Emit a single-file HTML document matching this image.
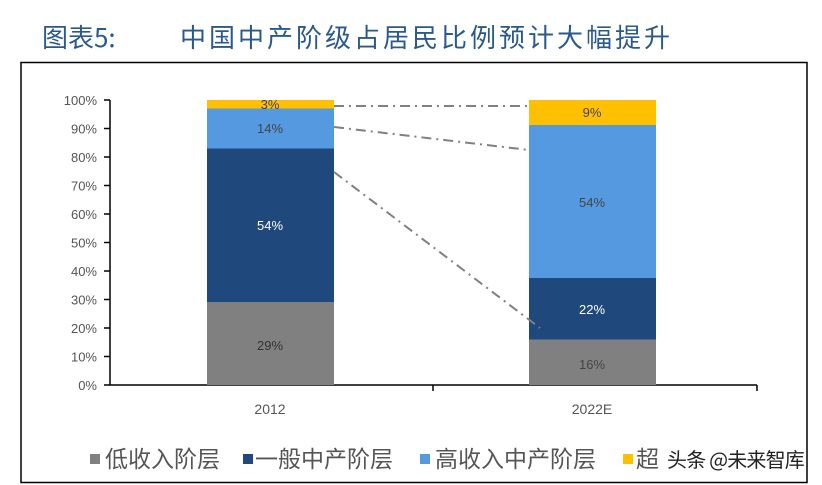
<!DOCTYPE html>
<html><head><meta charset="utf-8"><style>
body{margin:0;background:#fff;width:822px;height:485px;overflow:hidden;font-family:"Liberation Sans","Noto Sans CJK SC",sans-serif}
</style></head><body>
<svg width="822" height="485" xmlns="http://www.w3.org/2000/svg" style="position:absolute;left:0;top:0">
<text x="42" y="47" font-size="26" fill="#2a5a8c" font-family="'Noto Sans CJK SC',sans-serif">图表5:</text>
<text x="180" y="47" font-size="26" fill="#2a5a8c" font-family="'Noto Sans CJK SC',sans-serif" letter-spacing="3">中国中产阶级占居民比例预计大幅提升</text>
<rect x="21" y="62.5" width="786" height="420" fill="none" stroke="#000" stroke-width="1.5"/>
<g font-size="13" fill="#555" text-anchor="end" font-family="'Liberation Sans',sans-serif">
<text x="97" y="390">0%</text><text x="97" y="361.5">10%</text><text x="97" y="333">20%</text><text x="97" y="304.5">30%</text><text x="97" y="276">40%</text><text x="97" y="247.5">50%</text><text x="97" y="219">60%</text><text x="97" y="190.5">70%</text><text x="97" y="162">80%</text><text x="97" y="133.5">90%</text><text x="97" y="105">100%</text>
</g>
<g stroke="#000" stroke-width="1.5">
<line x1="110" y1="100" x2="110" y2="385"/>
<line x1="104" y1="100" x2="110" y2="100"/><line x1="104" y1="128.5" x2="110" y2="128.5"/><line x1="104" y1="157" x2="110" y2="157"/><line x1="104" y1="185.5" x2="110" y2="185.5"/><line x1="104" y1="214" x2="110" y2="214"/><line x1="104" y1="242.5" x2="110" y2="242.5"/><line x1="104" y1="271" x2="110" y2="271"/><line x1="104" y1="299.5" x2="110" y2="299.5"/><line x1="104" y1="328" x2="110" y2="328"/><line x1="104" y1="356.5" x2="110" y2="356.5"/><line x1="104" y1="385" x2="110" y2="385"/>
<line x1="110" y1="385" x2="757" y2="385"/>
<line x1="433" y1="385" x2="433" y2="391"/><line x1="757" y1="385" x2="757" y2="391"/>
</g>
<rect x="207" y="302" width="127" height="83" fill="#808080"/>
<rect x="207" y="148.5" width="127" height="153.5" fill="#1f497d"/>
<rect x="207" y="108.5" width="127" height="40" fill="#5599e0"/>
<rect x="207" y="100" width="127" height="8.5" fill="#ffc000"/>
<rect x="529" y="339.5" width="127" height="45.5" fill="#808080"/>
<rect x="529" y="278" width="127" height="61.5" fill="#1f497d"/>
<rect x="529" y="125" width="127" height="153" fill="#5599e0"/>
<rect x="529" y="100" width="127" height="25" fill="#ffc000"/>
<g stroke="#808080" stroke-width="2" stroke-dasharray="10,5,2,5" fill="none">
<line x1="334" y1="106" x2="529" y2="106"/>
<line x1="334" y1="127" x2="529" y2="150"/>
<line x1="334" y1="172" x2="540" y2="328"/>
</g>
<g font-size="13" text-anchor="middle">
<text x="270" y="109" fill="#444">3%</text>
<text x="270" y="133" fill="#444">14%</text>
<text x="270" y="230" fill="#fff">54%</text>
<text x="270" y="350" fill="#333">29%</text>
<text x="592" y="117" fill="#444">9%</text>
<text x="592" y="207" fill="#444">54%</text>
<text x="592" y="314" fill="#fff">22%</text>
<text x="592" y="369" fill="#444">16%</text>
<text x="270" y="414" fill="#555" font-size="14">2012</text>
<text x="592" y="414" fill="#555" font-size="14">2022E</text>
</g>
<g font-size="23" fill="#555" font-family="'Noto Sans CJK SC',sans-serif">
<rect x="90" y="454" width="10" height="10" fill="#808080"/><text x="105" y="467">低收入阶层</text>
<rect x="243" y="454" width="10" height="10" fill="#1f497d"/><text x="255" y="467">一般中产阶层</text>
<rect x="420" y="454" width="10" height="10" fill="#5599e0"/><text x="435" y="467">高收入中产阶层</text>
<rect x="623" y="454" width="10" height="10" fill="#ffc000"/><text x="636" y="467">超</text>
</g>
<text x="667" y="467" font-size="20" fill="#222" font-family="'Noto Sans CJK SC',sans-serif" letter-spacing="-0.8">头条 @未来智库</text>
</svg>
</body></html>
